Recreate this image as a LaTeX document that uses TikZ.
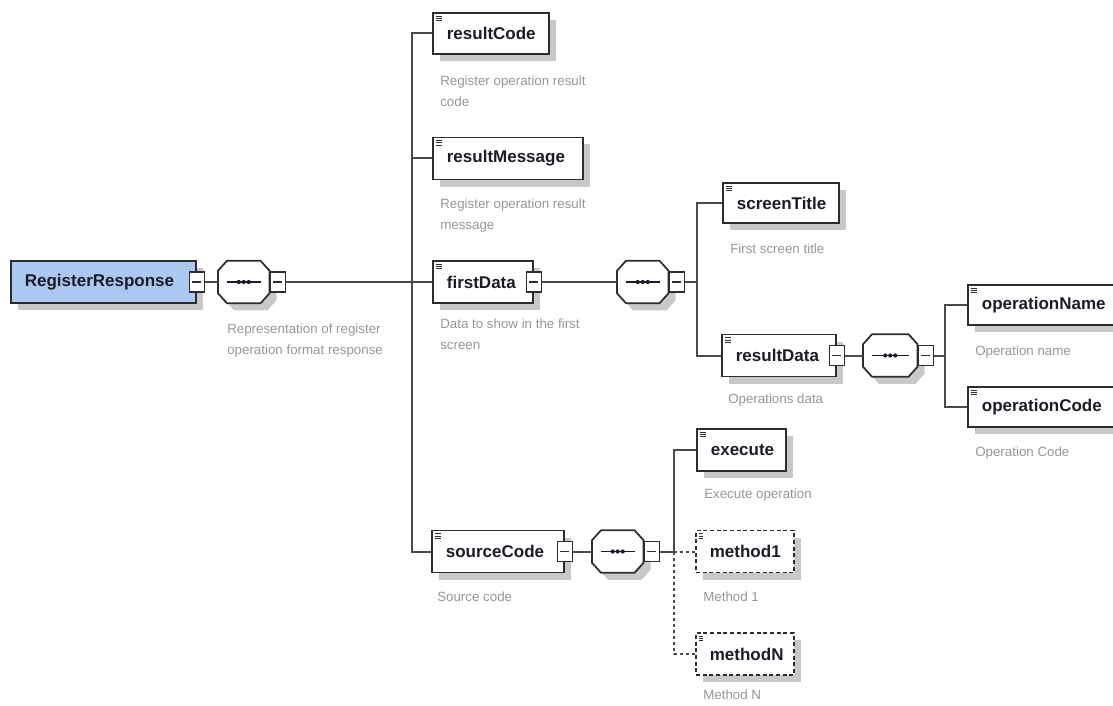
\documentclass[tikz,border=0pt]{standalone}
\usepackage{fontspec}
\setmainfont{Liberation Sans}
\usetikzlibrary{shadows,calc}

\definecolor{linegray}{RGB}{75,75,75}
\definecolor{boxline}{RGB}{45,45,45}
\definecolor{shadowgray}{RGB}{200,200,200}
\definecolor{descgray}{RGB}{150,150,150}
\definecolor{rootblue}{RGB}{170,200,240}
\definecolor{titleink}{RGB}{28,28,40}

\tikzset{
  conn/.style={draw=linegray, line width=1.5pt},
  optconn/.style={conn, dash pattern=on 2.5pt off 2pt},
  boxshadow/.style={drop shadow={shadow xshift=5.25pt, shadow yshift=-5.25pt, fill=shadowgray, opacity=1}},
  elemicon/.style={path picture={
      \draw[line width=0.5pt, boxline]
        ([xshift=2pt,yshift=-2.2pt]path picture bounding box.north west) -- ++(5pt,0)
        ([xshift=2pt,yshift=-4pt]path picture bounding box.north west) -- ++(5pt,0)
        ([xshift=2pt,yshift=-5.8pt]path picture bounding box.north west) -- ++(5pt,0);}},
  elem/.style={rectangle, draw=boxline, line width=1.3pt, fill=white,
    inner xsep=10.5pt, inner ysep=0pt, align=left, text=titleink,
    font=\fontsize{12.75}{15}\selectfont\bfseries, boxshadow, elemicon},
  rootelem/.style={fill=rootblue, path picture={}, inner xsep=9.75pt},
  optelem/.style={dash pattern=on 3pt off 2pt},
  minus/.style={rectangle, draw=boxline, line width=1pt, fill=white, inner sep=0pt,
    minimum width=11.25pt, minimum height=15pt,
    path picture={\draw[line width=0.8pt, boxline]
      ([xshift=2.2pt]path picture bounding box.west) -- ([xshift=-2.2pt]path picture bounding box.east);}},
  seqbox/.style={rectangle, draw=none, minimum height=31.5pt, inner sep=0pt},
  seqedge/.style={draw=boxline, line width=1.3pt, fill=white, line join=miter},
  seqshadow/.style={fill=shadowgray, transform canvas={shift={(5.25pt,-5.25pt)}}},
  seqmark/.style={draw=titleink, line width=1pt},
  desc/.style={anchor=north west, inner sep=0pt, align=left, text=descgray,
    font=\fontsize{10}{15.75}\selectfont},
}

% element box: [style]{name}{left x}{centre y}{width}{height}{label}
\newcommand{\xsdelem}[7][]{%
  \pgfmathsetlengthmacro{\elw}{#5*0.75pt}%
  \pgfmathsetlengthmacro{\elh}{#6*0.75pt}%
  \pgfmathsetlengthmacro{\eltw}{(#5-28)*0.75pt}%
  \node[elem,#1,anchor=west,minimum width=\elw,minimum height=\elh,text width=\eltw] (#2) at (#3,#4) {#7};}

% octagon outline around a sequence node
\newcommand{\octpath}[1]{($(#1.north west)+(9,0)$) -- ($(#1.north east)+(-9,0)$)
  -- ($(#1.north east)+(0,10)$) -- ($(#1.south east)+(0,-10)$)
  -- ($(#1.south east)+(-9,0)$) -- ($(#1.south west)+(9,0)$)
  -- ($(#1.south west)+(0,-10)$) -- ($(#1.north west)+(0,10)$) -- cycle}

% sequence compositor: {name}{left x}{centre y}{width}
\newcommand{\xsdseq}[4]{%
  \pgfmathsetlengthmacro{\sqw}{#4*0.75pt}%
  \node[seqbox, anchor=west, minimum width=\sqw] (#1) at (#2,#3) {};
  \fill[seqshadow] \octpath{#1};
  \filldraw[seqedge] \octpath{#1};
  \draw[seqmark] ($(#1.west)+(9,0)$) -- ($(#1.east)+(-9,0)$);
  \foreach \d in {-5,0,5} \fill[titleink] ($(#1.center)+(\d,0)$) circle[radius=2.1];
  \node[minus, anchor=west] (#1-c) at (#1.east) {};}

\begin{document}
\begin{tikzpicture}[x=0.75pt, y=-0.75pt]
\useasboundingbox (0,0) rectangle (1113,706);

% root element and its sequence
\xsdelem[rootelem]{RegisterResponse}{10}{282}{185}{42}{RegisterResponse}
\node[minus] (RegisterResponse-c) at (RegisterResponse.east) {};
\xsdseq{seq1}{218}{282}{51}

% children of RegisterResponse
\xsdelem{resultCode}{432}{33.5}{116}{41}{resultCode}
\xsdelem{resultMessage}{432}{158.5}{150}{42}{resultMessage}
\xsdelem{firstData}{432}{282}{100}{42}{firstData}
\node[minus] (firstData-c) at (firstData.east) {};
\xsdelem{sourceCode}{431}{551.5}{132}{42}{sourceCode}
\node[minus] (sourceCode-c) at (sourceCode.east) {};

% firstData content
\xsdseq{seq2}{617}{282}{51}
\xsdelem{screenTitle}{722}{203}{116}{40}{screenTitle}
\xsdelem{resultData}{721}{355.5}{114}{42}{resultData}
\node[minus] (resultData-c) at (resultData.east) {};

% resultData content
\xsdseq{seq3}{863}{355.5}{54}
\xsdelem{operationName}{967}{305}{146}{40}{operationName}
\xsdelem{operationCode}{967}{407}{146}{40}{operationCode}

% sourceCode content
\xsdseq{seq4}{592}{551.5}{51}
\xsdelem{execute}{696}{450}{89}{42}{execute}
\xsdelem[optelem]{method1}{695}{551.5}{98}{42}{method1}
\xsdelem[optelem]{methodN}{695}{654}{98}{42}{methodN}

% junctions of the connector trees
\coordinate (j1) at (412,282);
\coordinate (j2) at (697,282);
\coordinate (j3) at (945,355.5);
\coordinate (j4) at (674,551.5);

% connectors
\draw[conn] (RegisterResponse-c) -- (seq1);
\draw[conn] (seq1-c) -- (j1);
\draw[conn] (j1) |- (resultCode);
\draw[conn] (j1) |- (resultMessage);
\draw[conn] (j1) -- (firstData);
\draw[conn] (j1) |- (sourceCode);

\draw[conn] (firstData-c) -- (seq2);
\draw[conn] (seq2-c) -- (j2);
\draw[conn] (j2) |- (screenTitle);
\draw[conn] (j2) |- (resultData);

\draw[conn] (resultData-c) -- (seq3);
\draw[conn] (seq3-c) -- (j3);
\draw[conn] (j3) |- (operationName);
\draw[conn] (j3) |- (operationCode);

\draw[conn] (sourceCode-c) -- (seq4);
\draw[conn] (seq4-c) -- (j4);
\draw[conn] (j4) |- (execute);
\draw[optconn] (j4) -- (method1);
\draw[optconn] (j4) |- (methodN);

% annotations
\node[desc] (d-RegisterResponse) at (227,324) {Representation of register\\operation format response};
\node[desc] (d-resultCode) at (440,76) {Register operation result\\code};
\node[desc] (d-resultMessage) at (440,199) {Register operation result\\message};
\node[desc] (d-firstData) at (440,319) {Data to show in the first\\screen};
\node[desc] (d-sourceCode) at (437,592) {Source code};
\node[desc] (d-screenTitle) at (730,244) {First screen title};
\node[desc] (d-resultData) at (728,394) {Operations data};
\node[desc] (d-operationName) at (975,346) {Operation name};
\node[desc] (d-operationCode) at (975,447) {Operation Code};
\node[desc] (d-execute) at (704,489) {Execute operation};
\node[desc] (d-method1) at (703,592) {Method 1};
\node[desc] (d-methodN) at (703,690) {Method N};
\end{tikzpicture}
\end{document}
